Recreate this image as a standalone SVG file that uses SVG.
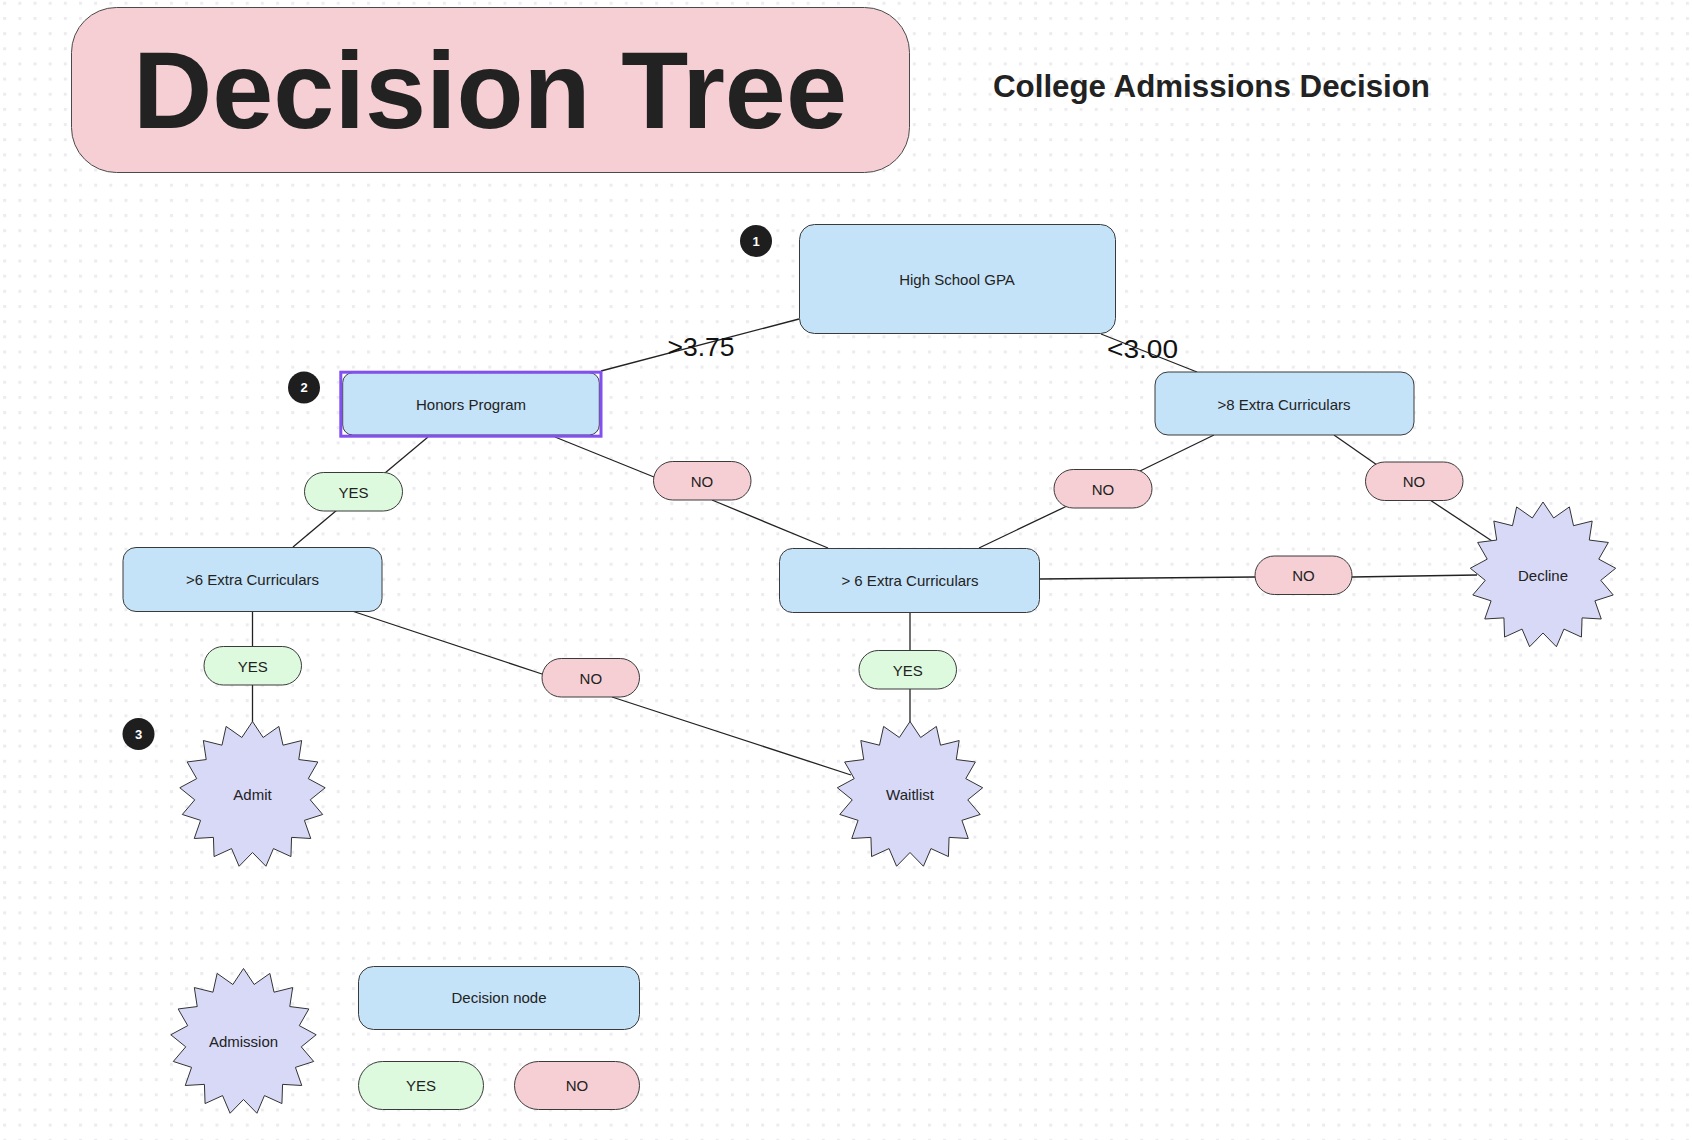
<svg xmlns="http://www.w3.org/2000/svg" xmlns:xlink="http://www.w3.org/1999/xlink" width="1692" height="1140" viewBox="0 0 1692 1140">
  <defs>
    <pattern id="grid" x="3.2" y="1.8" width="15.16" height="15.16" patternUnits="userSpaceOnUse">
      <rect width="3" height="3" fill="#ececf0"/>
    </pattern>
    <polygon id="star" points="0,-73 10.65,-57.01 26.37,-68.07 30.53,-49.31 49.18,-53.95 46.28,-34.95 65.35,-32.54 55.78,-15.87 72.69,-6.74 57.75,5.35 70.21,19.98 51.92,25.85 58.25,43.99 39.07,42.86 38.43,62.07 20.95,54.09 13.41,71.76 0,58 -13.41,71.76 -20.95,54.09 -38.43,62.07 -39.07,42.86 -58.25,43.99 -51.92,25.85 -70.21,19.98 -57.75,5.35 -72.69,-6.74 -55.78,-15.87 -65.35,-32.54 -46.28,-34.95 -49.18,-53.95 -30.53,-49.31 -26.37,-68.07 -10.65,-57.01"/>
    <style>
      .box { fill: #c5e3f8; stroke: #3a3a3a; stroke-width: 1; }
      .yes { fill: #ddfadf; stroke: #3a3a3a; stroke-width: 1; }
      .no { fill: #f6cfd5; stroke: #3a3a3a; stroke-width: 1; }
      .starshape { fill: #d7d9f7; stroke: #333333; stroke-width: 1; }
      .lbl { font-family: "Liberation Sans", Arial, sans-serif; font-size: 15px; fill: #222222; text-anchor: middle; dominant-baseline: central; }
      .badge { fill: #1e1e1e; }
      .badgetxt { font-family: "Liberation Sans", Arial, sans-serif; font-size: 13px; font-weight: bold; fill: #ffffff; text-anchor: middle; dominant-baseline: central; }
      .edge { stroke: #222222; stroke-width: 1.3; fill: none; }
      .cond { font-family: "Liberation Sans", Arial, sans-serif; font-size: 25px; fill: #111111; text-anchor: middle; }
    </style>
  </defs>

  <rect width="1692" height="1140" fill="#ffffff"/>
  <rect width="1692" height="1140" fill="url(#grid)"/>

  <g id="title">
    <rect x="71.5" y="7.5" width="838" height="165" rx="45" fill="#f6cfd4" stroke="#4a4a4a" stroke-width="1"/>
    <text x="490" y="128" font-family="Liberation Sans, Arial, sans-serif" font-size="110" font-weight="bold" fill="#222222" text-anchor="middle" textLength="714" lengthAdjust="spacingAndGlyphs">Decision Tree</text>
  </g>
  <g id="subtitle">
    <text x="993" y="97" font-family="Liberation Sans, Arial, sans-serif" font-size="31" font-weight="bold" fill="#222222" textLength="437" lengthAdjust="spacingAndGlyphs">College Admissions Decision</text>
  </g>

  <g id="connectors">
    <line class="edge" x1="799" y1="319" x2="601" y2="371"/>
    <line class="edge" x1="1101" y1="334" x2="1197" y2="372"/>
    <line class="edge" x1="428" y1="437" x2="385" y2="473"/>
    <line class="edge" x1="337" y1="510" x2="293" y2="547"/>
    <line class="edge" x1="555" y1="437" x2="654" y2="477"/>
    <line class="edge" x1="712" y1="500" x2="828" y2="548"/>
    <line class="edge" x1="1214" y1="435" x2="1140" y2="471"/>
    <line class="edge" x1="1067" y1="506" x2="979" y2="548"/>
    <line class="edge" x1="1334" y1="435" x2="1377" y2="465"/>
    <line class="edge" x1="1430" y1="500" x2="1492" y2="541"/>
    <line class="edge" x1="1039" y1="579" x2="1255" y2="577"/>
    <line class="edge" x1="1352" y1="577" x2="1477" y2="575"/>
    <line class="edge" x1="252.5" y1="611" x2="252.5" y2="647"/>
    <line class="edge" x1="252.5" y1="685" x2="252.5" y2="722"/>
    <line class="edge" x1="352" y1="611" x2="542" y2="674"/>
    <line class="edge" x1="612" y1="697" x2="851" y2="775"/>
    <line class="edge" x1="910" y1="612" x2="910" y2="651"/>
    <line class="edge" x1="910" y1="689" x2="910" y2="722"/>
    <text class="cond" x="701" y="355.5" textLength="67" lengthAdjust="spacingAndGlyphs">&gt;3.75</text>
    <text class="cond" x="1142.5" y="357.5" textLength="71" lengthAdjust="spacingAndGlyphs">&lt;3.00</text>
  </g>

  <g id="badge1"><circle class="badge" cx="756" cy="241" r="16"/><text class="badgetxt" x="756" y="241">1</text></g>
  <g id="badge2"><circle class="badge" cx="304" cy="387.5" r="16"/><text class="badgetxt" x="304" y="387.5">2</text></g>
  <g id="badge3"><circle class="badge" cx="138.5" cy="734" r="16"/><text class="badgetxt" x="138.5" y="734">3</text></g>

  <g id="gpa">
    <rect class="box" x="799.5" y="224.5" width="316" height="109" rx="15"/>
    <text class="lbl" x="957" y="279">High School GPA</text>
  </g>

  <g id="honors">
    <rect class="box" x="342.7" y="372.7" width="256.6" height="62.3" rx="10"/>
    <rect x="340.8" y="372.2" width="260.2" height="64" fill="none" stroke="#8250f0" stroke-width="3"/>
    <text class="lbl" x="471" y="404">Honors Program</text>
  </g>

  <g id="extra8">
    <rect class="box" x="1155" y="372" width="259" height="63" rx="13"/>
    <text class="lbl" x="1284" y="404">&gt;8 Extra Curriculars</text>
  </g>

  <g id="extra6left">
    <rect class="box" x="123" y="547.5" width="259" height="64" rx="13"/>
    <text class="lbl" x="252.5" y="579.5">&gt;6 Extra Curriculars</text>
  </g>

  <g id="extra6mid">
    <rect class="box" x="779.5" y="548.5" width="260" height="64" rx="13"/>
    <text class="lbl" x="910" y="580">&gt; 6 Extra Curriculars</text>
  </g>

  <g id="yes-honors">
    <rect class="yes" x="304.5" y="472.5" width="98" height="38.5" rx="19.25"/>
    <text class="lbl" x="353.5" y="492">YES</text>
  </g>
  <g id="no-honors">
    <rect class="no" x="653.5" y="461.5" width="97.5" height="38.5" rx="19.25"/>
    <text class="lbl" x="702" y="481">NO</text>
  </g>
  <g id="no-extra8-left">
    <rect class="no" x="1054" y="469.5" width="98" height="38.5" rx="19.25"/>
    <text class="lbl" x="1103" y="489">NO</text>
  </g>
  <g id="no-extra8-right">
    <rect class="no" x="1365.5" y="462" width="97.5" height="38.5" rx="19.25"/>
    <text class="lbl" x="1414" y="481.5">NO</text>
  </g>
  <g id="no-mid-decline">
    <rect class="no" x="1255" y="556" width="97" height="38.5" rx="19.25"/>
    <text class="lbl" x="1303.5" y="575.5">NO</text>
  </g>
  <g id="yes-left">
    <rect class="yes" x="204" y="646.5" width="97.5" height="38.5" rx="19.25"/>
    <text class="lbl" x="252.8" y="666">YES</text>
  </g>
  <g id="no-left">
    <rect class="no" x="542" y="658.5" width="97.5" height="38.5" rx="19.25"/>
    <text class="lbl" x="590.8" y="678">NO</text>
  </g>
  <g id="yes-mid">
    <rect class="yes" x="859" y="650.5" width="97.5" height="38.5" rx="19.25"/>
    <text class="lbl" x="907.8" y="670">YES</text>
  </g>

  <g id="admit">
    <use xlink:href="#star" href="#star" class="starshape" transform="translate(252.5,794.5)"/>
    <text class="lbl" x="252.5" y="794.5">Admit</text>
  </g>
  <g id="waitlist">
    <use xlink:href="#star" href="#star" class="starshape" transform="translate(910,794.5)"/>
    <text class="lbl" x="910" y="794.5">Waitlist</text>
  </g>
  <g id="decline">
    <use xlink:href="#star" href="#star" class="starshape" transform="translate(1543,575)"/>
    <text class="lbl" x="1543" y="575">Decline</text>
  </g>

  <g id="legend-admission">
    <use xlink:href="#star" href="#star" class="starshape" transform="translate(243.5,1041.5)"/>
    <text class="lbl" x="243.5" y="1041.5">Admission</text>
  </g>
  <g id="legend-decision">
    <rect class="box" x="358.5" y="966.5" width="281" height="63" rx="15"/>
    <text class="lbl" x="499" y="997.5">Decision node</text>
  </g>
  <g id="legend-yes">
    <rect class="yes" x="358.5" y="1061.5" width="125" height="48" rx="24"/>
    <text class="lbl" x="421" y="1085.5">YES</text>
  </g>
  <g id="legend-no">
    <rect class="no" x="514.5" y="1061.5" width="125" height="48" rx="24"/>
    <text class="lbl" x="577" y="1085.5">NO</text>
  </g>
</svg>
